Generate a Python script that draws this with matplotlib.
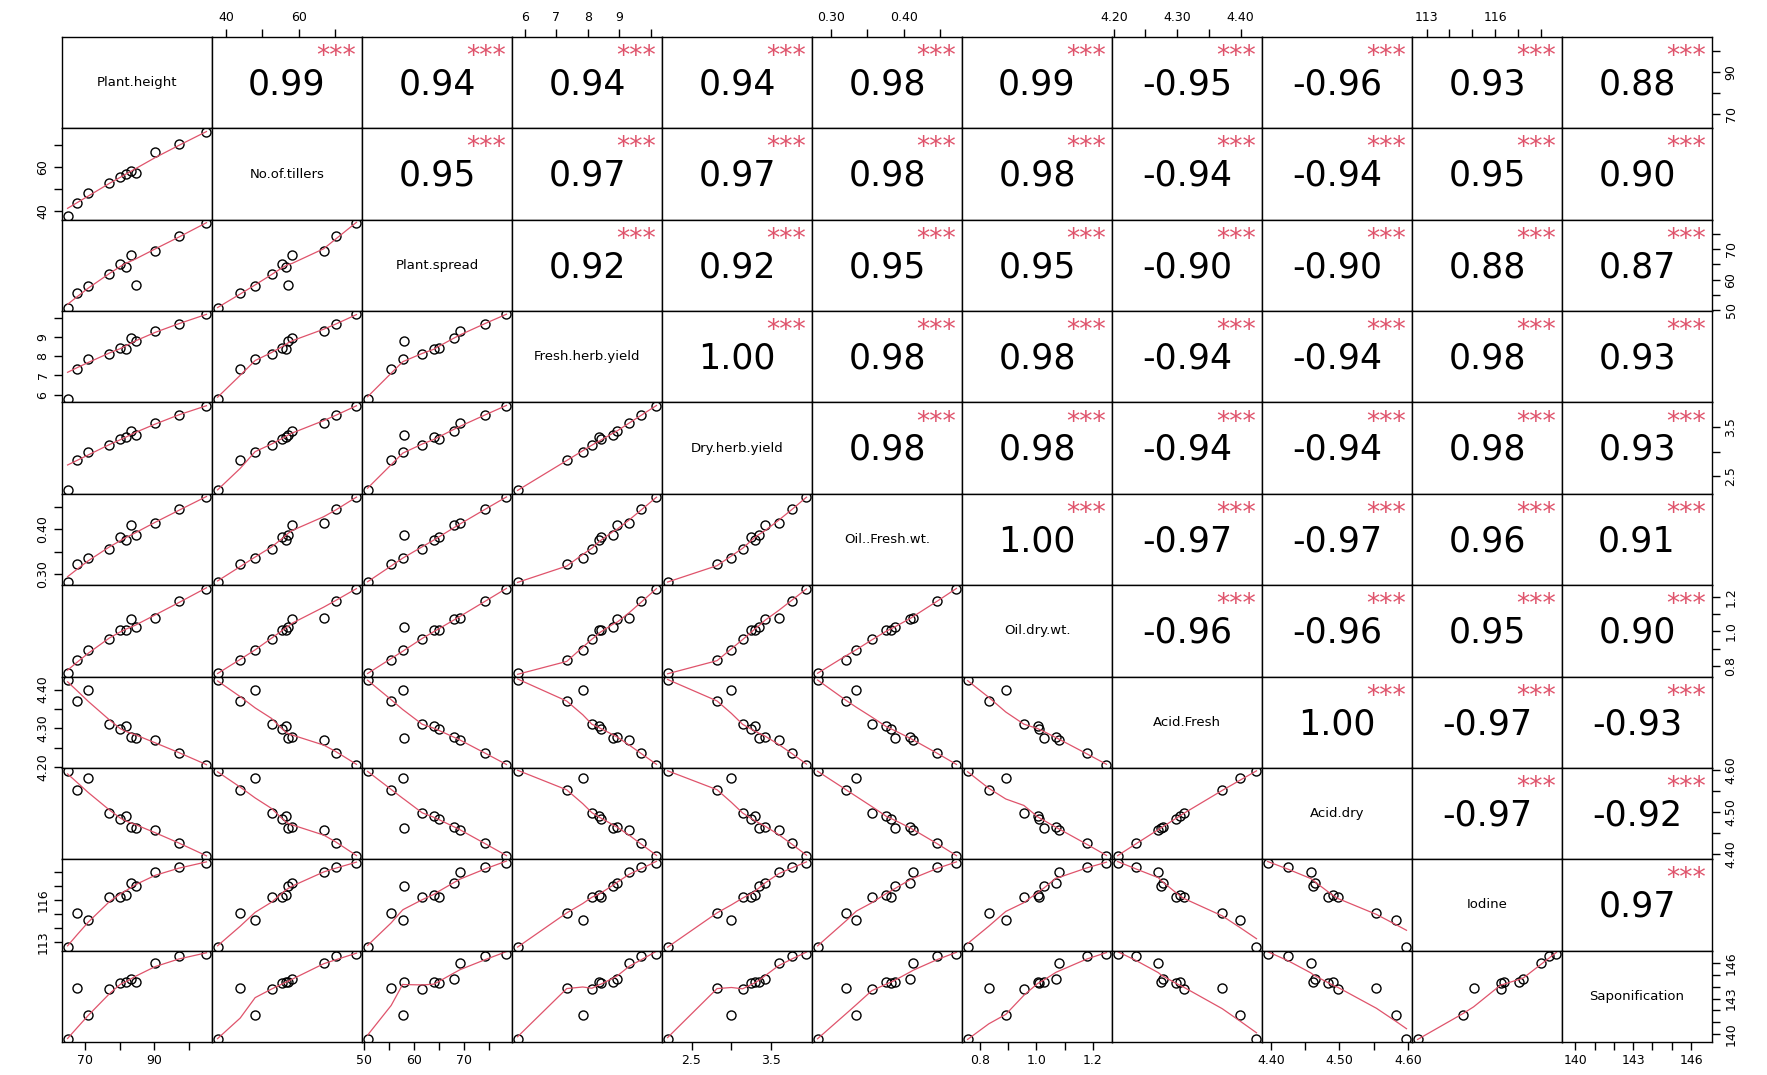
import numpy as np
import matplotlib
matplotlib.use('Agg')
import matplotlib.pyplot as plt

# variable names as on the diagonal
names = ['Plant.height', 'No.of.tillers', 'Plant.spread', 'Fresh.herb.yield',
         'Dry.herb.yield', 'Oil..Fresh.wt.', 'Oil.dry.wt.', 'Acid.Fresh',
         'Acid.dry', 'Iodine', 'Saponification']

plant_height = [65.0, 67.8, 71.0, 77.0, 80.2, 81.8, 83.4, 84.6, 90.2, 97.0, 105.0]
tillers = [37.7, 43.9, 48.0, 52.5, 55.3, 56.6, 58.2, 57.0, 66.8, 70.1, 75.8]
spread = [50.8, 55.5, 57.8, 61.7, 65.0, 64.0, 68.1, 58.1, 69.3, 74.3, 78.5]
fresh_yield = [5.77, 7.33, 7.84, 8.13, 8.41, 8.36, 8.94, 8.79, 9.32, 9.70, 10.18]
dry_yield = [2.20, 2.82, 3.00, 3.14, 3.25, 3.29, 3.42, 3.34, 3.59, 3.76, 3.94]
oil_fresh = [0.282, 0.321, 0.335, 0.356, 0.382, 0.376, 0.409, 0.388, 0.413, 0.446, 0.472]
oil_dry = [0.757, 0.832, 0.892, 0.956, 1.010, 1.005, 1.070, 1.027, 1.080, 1.178, 1.248]
acid_fresh = [4.425, 4.371, 4.399, 4.310, 4.298, 4.305, 4.277, 4.275, 4.270, 4.235, 4.206]
acid_dry = [4.598, 4.554, 4.583, 4.498, 4.484, 4.491, 4.465, 4.462, 4.458, 4.425, 4.395]
iodine = [112.6, 115.06, 114.6, 116.25, 116.25, 116.38, 117.25, 117.05, 118.04, 118.37, 118.7]
saponification = [139.6, 143.9, 141.6, 143.8, 144.3, 144.4, 144.7, 144.4, 146.0, 146.6, 146.8]

data = [plant_height, tillers, spread, fresh_yield, dry_yield, oil_fresh,
        oil_dry, acid_fresh, acid_dry, iodine, saponification]

# correlation coefficients shown in the upper panels (row by row)
cor_rows = [
    ['0.99', '0.94', '0.94', '0.94', '0.98', '0.99', '-0.95', '-0.96', '0.93', '0.88'],
    ['0.95', '0.97', '0.97', '0.98', '0.98', '-0.94', '-0.94', '0.95', '0.90'],
    ['0.92', '0.92', '0.95', '0.95', '-0.90', '-0.90', '0.88', '0.87'],
    ['1.00', '0.98', '0.98', '-0.94', '-0.94', '0.98', '0.93'],
    ['0.98', '0.98', '-0.94', '-0.94', '0.98', '0.93'],
    ['1.00', '-0.97', '-0.97', '0.96', '0.91'],
    ['-0.96', '-0.96', '0.95', '0.90'],
    ['1.00', '-0.97', '-0.93'],
    ['-0.97', '-0.92'],
    ['0.97'],
]
signif = '***'

# axis ticks and the labels that are printed
ticks = [
    ([70, 80, 90, 100], ['70', '', '90', '']),
    ([40, 50, 60, 70], ['40', '', '60', '']),
    ([50, 55, 60, 65, 70, 75], ['50', '', '60', '', '70', '']),
    ([6, 7, 8, 9, 10], ['6', '7', '8', '9', '']),
    ([2.5, 3.0, 3.5], ['2.5', '', '3.5']),
    ([0.30, 0.35, 0.40, 0.45], ['0.30', '', '0.40', '']),
    ([0.8, 0.9, 1.0, 1.1, 1.2], ['0.8', '', '1.0', '', '1.2']),
    ([4.20, 4.25, 4.30, 4.35, 4.40], ['4.20', '', '4.30', '', '4.40']),
    ([4.40, 4.45, 4.50, 4.55, 4.60], ['4.40', '', '4.50', '', '4.60']),
    ([113, 114, 115, 116, 117, 118], ['113', '', '', '116', '', '']),
    ([140, 141, 142, 143, 144, 145, 146], ['140', '', '', '143', '', '', '146']),
]

red = '#DF536B'


def lowess(x, y, f=2/3, iters=3):
    # port of R's clowess (without the delta speed-up)
    x = np.asarray(x, float)
    y = np.asarray(y, float)
    o = np.argsort(x, kind='mergesort')
    x = x[o]
    y = y[o]
    n = len(x)
    ns = max(min(int(f * n + 1e-7), n), 2)
    rw = np.ones(n)
    ys = np.empty(n)
    xr = x[-1] - x[0]
    for it in range(iters + 1):
        for i in range(n):
            d = np.abs(x - x[i])
            h = max(np.sort(d)[ns - 1], 1e-12)
            u = d / h
            w = np.where(u <= 0.001, 1.0, np.where(u <= 0.999, (1 - u ** 3) ** 3, 0.0)) * rw
            sw = w.sum()
            if sw <= 0:
                ys[i] = y[i]
                continue
            w = w / sw
            a = np.sum(w * x)
            c = np.sum(w * (x - a) ** 2)
            if np.sqrt(c) > 0.001 * xr:
                b = (x[i] - a) / c
                w = w * (b * (x - a) + 1)
            ys[i] = np.sum(w * y)
        if it == iters:
            break
        res = y - ys
        cmad = 6 * np.median(np.abs(res))
        if cmad < 1e-7 * np.mean(np.abs(y)):
            break
        r = np.abs(res) / cmad
        rw = np.where(r <= 0.001, 1.0, np.where(r <= 0.999, (1 - r ** 2) ** 2, 0.0))
    return x, ys


def rlim(v):
    v = np.asarray(v, float)
    lo, hi = v.min(), v.max()
    pad = 0.04 * (hi - lo)
    return lo - pad, hi + pad


plt.rcParams['font.family'] = 'DejaVu Sans'
nv = len(names)
fig, axes = plt.subplots(nv, nv, figsize=(17.67, 10.75), dpi=100)
plt.subplots_adjust(left=0.0351, right=0.9689, bottom=0.0307, top=0.9656,
                    wspace=0, hspace=0)

for i in range(nv):
    for j in range(nv):
        ax = axes[i, j]
        ax.set_xlim(rlim(data[j]))
        ax.set_ylim(rlim(data[i]))
        ax.set_xticks([])
        ax.set_yticks([])
        for s in ax.spines.values():
            s.set_linewidth(1.0)
            s.set_color('black')
        if i > j:
            ax.plot(data[j], data[i], 'o', mfc='none', mec='black', ms=6.5, mew=1.0)
            lx, ly = lowess(data[j], data[i])
            ax.plot(lx, ly, color=red, lw=0.9)
        elif i < j:
            ax.text(0.5, 0.48, cor_rows[i][j - i - 1], transform=ax.transAxes,
                    ha='center', va='center', fontsize=25)
            ax.text(0.83, 0.78, signif, transform=ax.transAxes, ha='center',
                    va='center', fontsize=19, color=red)
        else:
            ax.text(0.5, 0.5, names[i], transform=ax.transAxes, ha='center',
                    va='center', fontsize=9.5)

        tp = dict(direction='out', length=6, width=1, labelsize=9, pad=3)
        if i == 0 and j % 2 == 1:
            ax.xaxis.set_ticks_position('top')
            ax.set_xticks(ticks[j][0])
            ax.set_xticklabels(ticks[j][1])
            ax.tick_params(axis='x', **tp)
        if i == nv - 1 and j % 2 == 0:
            ax.set_xticks(ticks[j][0])
            ax.set_xticklabels(ticks[j][1])
            ax.tick_params(axis='x', **tp)
        if j == 0 and i % 2 == 1:
            ax.set_yticks(ticks[i][0])
            ax.set_yticklabels(ticks[i][1], rotation=90, va='center')
            ax.tick_params(axis='y', **tp)
        if j == nv - 1 and i % 2 == 0:
            ax.yaxis.set_ticks_position('right')
            ax.set_yticks(ticks[i][0])
            ax.set_yticklabels(ticks[i][1], rotation=90, va='center')
            ax.tick_params(axis='y', **tp)

fig.savefig('out.png', dpi=100, facecolor='white')
